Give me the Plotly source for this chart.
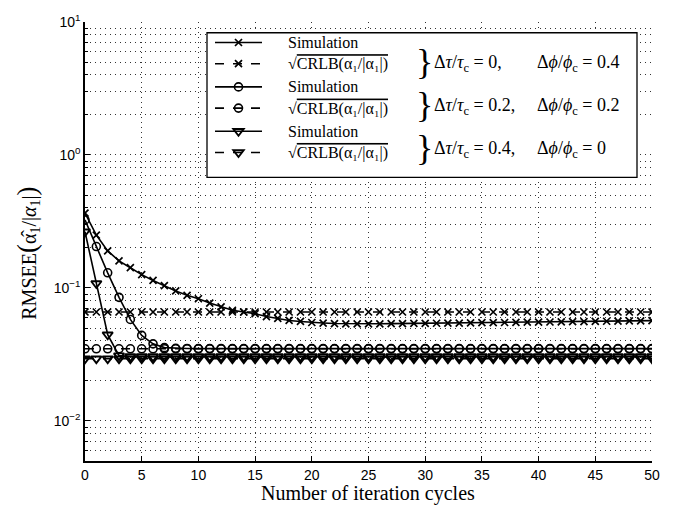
import math
import plotly.graph_objects as go

# ---------------- data ----------------
iterations = list(range(51))

# Δτ/τc = 0, Δφ/φc = 0.4  (x markers)
sim_dt0 = [0.366, 0.25, 0.19, 0.160, 0.142, 0.126, 0.114, 0.104, 0.095, 0.088,
           0.083, 0.077, 0.072, 0.068, 0.066, 0.064, 0.061, 0.059, 0.057, 0.056,
           0.055, 0.0545, 0.054, 0.0538, 0.0537, 0.0537, 0.0538, 0.0539, 0.054, 0.0541,
           0.0542, 0.0543, 0.0544, 0.0545, 0.0547, 0.0548, 0.0549, 0.055, 0.0551, 0.0553,
           0.0554, 0.0555, 0.0557, 0.0558, 0.0559, 0.056, 0.0562, 0.0563, 0.0565, 0.0566,
           0.0568]
crlb_dt0 = [0.066, 0.066, 0.066, 0.066, 0.066, 0.066, 0.066, 0.066, 0.066, 0.066,
            0.066, 0.066, 0.066, 0.066, 0.066, 0.066, 0.066, 0.066, 0.066, 0.066,
            0.066, 0.066, 0.066, 0.066, 0.066, 0.066, 0.066, 0.066, 0.066, 0.066,
            0.066, 0.066, 0.066, 0.066, 0.066, 0.066, 0.066, 0.066, 0.066, 0.066,
            0.066, 0.066, 0.066, 0.066, 0.066, 0.066, 0.066, 0.066, 0.066, 0.066,
            0.066]

# Δτ/τc = 0.2, Δφ/φc = 0.2  (circles)
sim_dt02 = [0.325, 0.205, 0.130, 0.085, 0.058, 0.044, 0.038, 0.0356, 0.0352, 0.0351,
            0.035, 0.035, 0.035, 0.035, 0.035, 0.035, 0.035, 0.035, 0.035, 0.035,
            0.035, 0.035, 0.035, 0.035, 0.035, 0.035, 0.035, 0.035, 0.035, 0.035,
            0.035, 0.035, 0.035, 0.035, 0.035, 0.035, 0.035, 0.035, 0.035, 0.035,
            0.035, 0.035, 0.035, 0.035, 0.035, 0.035, 0.035, 0.035, 0.035, 0.035,
            0.035]
crlb_dt02 = [0.0349, 0.0349, 0.0349, 0.0349, 0.0349, 0.0349, 0.0349, 0.0349, 0.0349, 0.0349,
             0.0349, 0.0349, 0.0349, 0.0349, 0.0349, 0.0349, 0.0349, 0.0349, 0.0349, 0.0349,
             0.0349, 0.0349, 0.0349, 0.0349, 0.0349, 0.0349, 0.0349, 0.0349, 0.0349, 0.0349,
             0.0349, 0.0349, 0.0349, 0.0349, 0.0349, 0.0349, 0.0349, 0.0349, 0.0349, 0.0349,
             0.0349, 0.0349, 0.0349, 0.0349, 0.0349, 0.0349, 0.0349, 0.0349, 0.0349, 0.0349,
             0.0349]

# Δτ/τc = 0.4, Δφ/φc = 0  (triangles)
sim_dt04 = [0.265, 0.108, 0.0445, 0.031, 0.0305, 0.0305, 0.0305, 0.0305, 0.0305, 0.0305,
            0.0305, 0.0305, 0.0305, 0.0305, 0.0305, 0.0305, 0.0305, 0.0305, 0.0305, 0.0305,
            0.0305, 0.0305, 0.0305, 0.0305, 0.0305, 0.0305, 0.0305, 0.0305, 0.0305, 0.0305,
            0.0305, 0.0305, 0.0305, 0.0305, 0.0305, 0.0305, 0.0305, 0.0305, 0.0305, 0.0305,
            0.0305, 0.0305, 0.0305, 0.0305, 0.0305, 0.0305, 0.0305, 0.0305, 0.0305, 0.0305,
            0.0305]
crlb_dt04 = [0.0294, 0.0294, 0.0294, 0.0294, 0.0294, 0.0294, 0.0294, 0.0294, 0.0294, 0.0294,
             0.0294, 0.0294, 0.0294, 0.0294, 0.0294, 0.0294, 0.0294, 0.0294, 0.0294, 0.0294,
             0.0294, 0.0294, 0.0294, 0.0294, 0.0294, 0.0294, 0.0294, 0.0294, 0.0294, 0.0294,
             0.0294, 0.0294, 0.0294, 0.0294, 0.0294, 0.0294, 0.0294, 0.0294, 0.0294, 0.0294,
             0.0294, 0.0294, 0.0294, 0.0294, 0.0294, 0.0294, 0.0294, 0.0294, 0.0294, 0.0294,
             0.0294]

x_tick_vals = [0, 5, 10, 15, 20, 25, 30, 35, 40, 45, 50]
y_tick_vals = [0.01, 0.1, 1, 10]
y_tick_text = ["10<sup>−2</sup>", "10<sup>−1</sup>", "10<sup>0</sup>", "10<sup>1</sup>"]
y_minor_vals = [0.005, 0.006, 0.007, 0.008, 0.009,
                0.02, 0.03, 0.04, 0.05, 0.06, 0.07, 0.08, 0.09,
                0.2, 0.3, 0.4, 0.5, 0.6, 0.7, 0.8, 0.9,
                2, 3, 4, 5, 6, 7, 8, 9]

tau_labels = [
    "Δ<i>τ</i>/<i>τ</i><sub>c</sub> = 0,",
    "Δ<i>τ</i>/<i>τ</i><sub>c</sub> = 0.2,",
    "Δ<i>τ</i>/<i>τ</i><sub>c</sub> = 0.4,",
]
phi_labels = [
    "Δ<i>ϕ</i>/<i>ϕ</i><sub>c</sub> = 0.4",
    "Δ<i>ϕ</i>/<i>ϕ</i><sub>c</sub> = 0.2",
    "Δ<i>ϕ</i>/<i>ϕ</i><sub>c</sub> = 0",
]
sim_name = "\u2003\u2002<span style=\"font-size:16px\">Simulation</span>"
crlb_name = ("\u2003\u2002<span style=\"font-size:16px\">√</span>"
             "<span style=\"font-size:16px;text-decoration:overline\">CRLB(α₁/|α₁|)</span>")

# ---------------- figure ----------------
SERIF = "Liberation Serif, DejaVu Serif, serif"
SANS = "Liberation Sans, Arial, sans-serif"

W, H = 679, 512
L, R, T, B = 85, 27, 12, 51
PW, PH = W - L - R, H - T - B


def px(xp):
    return (xp - L) / PW


def py(yp):
    return (H - B - yp) / PH


fig = go.Figure()

series = [
    (sim_dt0, "solid", "x-thin-open", 7, 1.7, "g1", sim_name),
    (crlb_dt0, "dash", "x-thin-open", 7, 1.7, "g1", crlb_name),
    (sim_dt02, "solid", "circle-open", 8, 1.6, "g2", sim_name),
    (crlb_dt02, "dash", "circle-open", 8, 1.6, "g2", crlb_name),
    (sim_dt04, "solid", "triangle-down-open", 9, 1.9, "g3", sim_name),
    (crlb_dt04, "dash", "triangle-down-open", 9, 1.9, "g3", crlb_name),
]
for vals, dash, sym, size, mlw, grp, name in series:
    fig.add_trace(go.Scatter(
        x=iterations, y=vals, mode="lines+markers", name=name,
        legendgroup=grp,
        line=dict(color="black", width=1.6, dash=dash),
        marker=dict(symbol=sym, size=size, color="black",
                    line=dict(color="black", width=mlw)),
    ))

GRID = dict(showgrid=True, gridcolor="#333333", gridwidth=1, griddash="1px,4px")

fig.update_xaxes(
    range=[0, 50], tickvals=x_tick_vals, ticktext=[str(v) for v in x_tick_vals],
    ticks="inside", ticklen=5, tickwidth=1, tickcolor="black",
    showline=True, linecolor="black", linewidth=1.5, mirror=False,
    zeroline=False, tickfont=dict(family=SANS, size=14, color="black"),
    **GRID,
)
fig.update_yaxes(
    type="log", range=[math.log10(0.005), 1],
    tickvals=y_tick_vals, ticktext=y_tick_text,
    ticks="inside", ticklen=5, tickwidth=1, tickcolor="black",
    showline=True, linecolor="black", linewidth=1.5, mirror=False,
    zeroline=False, tickfont=dict(family=SANS, size=14, color="black"),
    minor=dict(tickmode="array", tickvals=y_minor_vals, ticks="inside", ticklen=3,
               tickcolor="black", **GRID),
    **GRID,
)

fig.update_layout(
    width=W, height=H,
    margin=dict(l=L, r=R, t=T, b=B, pad=0),
    paper_bgcolor="white", plot_bgcolor="white",
    showlegend=True,
    legend=dict(
        x=px(210), y=py(17), xanchor="left", yanchor="top",
        bgcolor="rgba(0,0,0,0)", borderwidth=0,
        font=dict(family=SERIF, size=14, color="black"),
        itemwidth=47, tracegroupgap=2,
        traceorder="grouped",
    ),
    shapes=[dict(
        type="rect", xref="paper", yref="paper",
        x0=px(207), x1=px(637), y0=py(171), y1=py(23),
        fillcolor="white", line=dict(color="black", width=1.3), layer="above",
    )],
)

big = "<span style=\"font-size:27px\">"
annotations = [
    dict(text="RMSEE" + big + "(</span>α̂<sub>1</sub>/|<i>α</i><sub>1</sub>|" + big + ")</span>",
         x=px(28), y=py(249),
         xref="paper", yref="paper", showarrow=False, textangle=-90,
         font=dict(family=SERIF, size=20, color="black"), xanchor="center", yanchor="middle"),
    dict(text="Number of iteration cycles", x=px(368), y=py(494),
         xref="paper", yref="paper", showarrow=False,
         font=dict(family=SERIF, size=20, color="black"), xanchor="center", yanchor="middle"),
]
row_centers = [53, 97, 141]
for yc, tl, pl in zip(row_centers, tau_labels, phi_labels):
    annotations.append(dict(text="}", x=px(414), y=py(yc), xref="paper", yref="paper",
                            showarrow=False, xanchor="left", yanchor="middle",
                            font=dict(family=SERIF, size=36, color="black")))
    annotations.append(dict(text=tl, x=px(432), y=py(yc + 1), xref="paper", yref="paper",
                            showarrow=False, xanchor="left", yanchor="middle",
                            font=dict(family=SERIF, size=18, color="black")))
    annotations.append(dict(text=pl, x=px(535), y=py(yc + 1), xref="paper", yref="paper",
                            showarrow=False, xanchor="left", yanchor="middle",
                            font=dict(family=SERIF, size=18, color="black")))
fig.update_layout(annotations=annotations)

fig.write_html("out.html")
